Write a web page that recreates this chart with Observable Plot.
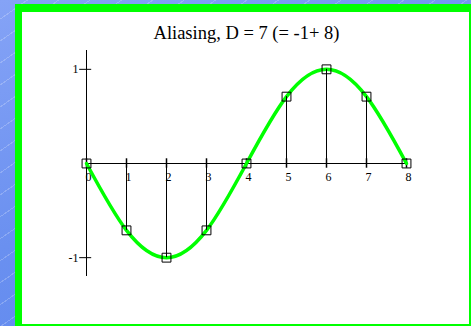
<!DOCTYPE html>
<html>
<head>
<meta charset="utf-8">
<script src="https://cdn.jsdelivr.net/npm/d3@7"></script>
<script src="https://cdn.jsdelivr.net/npm/@observablehq/plot@0.6"></script>
<style>
  html, body { margin: 0; padding: 0; }
  body {
    width: 471px; height: 326px; overflow: hidden; position: relative;
    background:
      repeating-linear-gradient(-35deg, rgba(255,255,255,0) 0px, rgba(255,255,255,0) 17px, rgba(255,255,255,0.22) 17px, rgba(255,255,255,0.22) 18px),
      linear-gradient(160deg, #85a3f6 0%, #6a90f0 50%, #5b86ee 100%);
  }
  #panel {
    position: absolute; left: 15px; top: 4px; width: 456px; height: 322px;
    box-sizing: border-box; background: #fff;
    border-left: 7px solid #00ff00; border-top: 8px solid #00ff00;
    border-right: 2px solid #00ff00; border-bottom: 2px solid #00ff00;
  }
  #title {
    position: absolute; left: 0; width: 493px; top: 23px; text-align: center;
    font-family: "Liberation Serif", "Times New Roman", serif; font-size: 18.5px; color: #000;
  }
  #chart { position: absolute; left: 0; top: 0; }
</style>
</head>
<body>
<div id="panel"></div>
<div id="title">Aliasing, D = 7 (= -1+ 8)</div>
<div id="chart"></div>
<script>
const n = [0, 1, 2, 3, 4, 5, 6, 7, 8];
const values = [0, -0.71, -1, -0.71, 0, 0.71, 1, 0.71, 0];
const xTicks = [0, 1, 2, 3, 4, 5, 6, 7, 8];
const yTicks = [1, -1];
const yTickLabels = ["1", "-1"];

const samples = n.map((k, i) => ({n: k, v: values[i]}));
const yt = yTicks.map((v, i) => ({v, label: yTickLabels[i]}));

const plot = Plot.plot({
  width: 471,
  height: 326,
  marginLeft: 86,
  marginRight: 65,
  marginTop: 50,
  marginBottom: 50,
  style: {background: "transparent", fontFamily: "'Liberation Serif', serif"},
  x: {domain: [0, 8], axis: null},
  y: {domain: [-1.2, 1.2], axis: null},
  marks: [
    // axes
    Plot.ruleY([0], {x1: 0, x2: 8, stroke: "black", strokeWidth: 1}),
    Plot.ruleX([0], {y1: -1.2, y2: 1.2, stroke: "black", strokeWidth: 1}),
    Plot.ruleX(xTicks, {x: d => d, y1: -0.05, y2: 0.05, stroke: "black", strokeWidth: 1.5}),
    Plot.ruleY(yt, {y: "v", x1: -0.17, x2: 0.13, stroke: "black", strokeWidth: 1}),
    Plot.text(xTicks, {x: d => d, y: 0, text: d => String(d), dy: 14, dx: 2, fontSize: 12, fill: "black"}),
    Plot.text(yt, {x: 0, y: "v", text: "label", dx: -8, textAnchor: "end", fontSize: 12, fill: "black"}),
    // continuous signal through the samples
    Plot.line(samples, {x: "n", y: "v", curve: "natural", stroke: "#00ff00", strokeWidth: 3.5}),
    // stems
    Plot.ruleX(samples, {x: "n", y1: 0, y2: "v", stroke: "black", strokeWidth: 1}),
    // sample markers
    Plot.dot(samples, {x: "n", y: "v", symbol: "square", r: 5, stroke: "black", strokeWidth: 1, fill: "none"})
  ]
});
document.getElementById("chart").appendChild(plot);
</script>
</body>
</html>
